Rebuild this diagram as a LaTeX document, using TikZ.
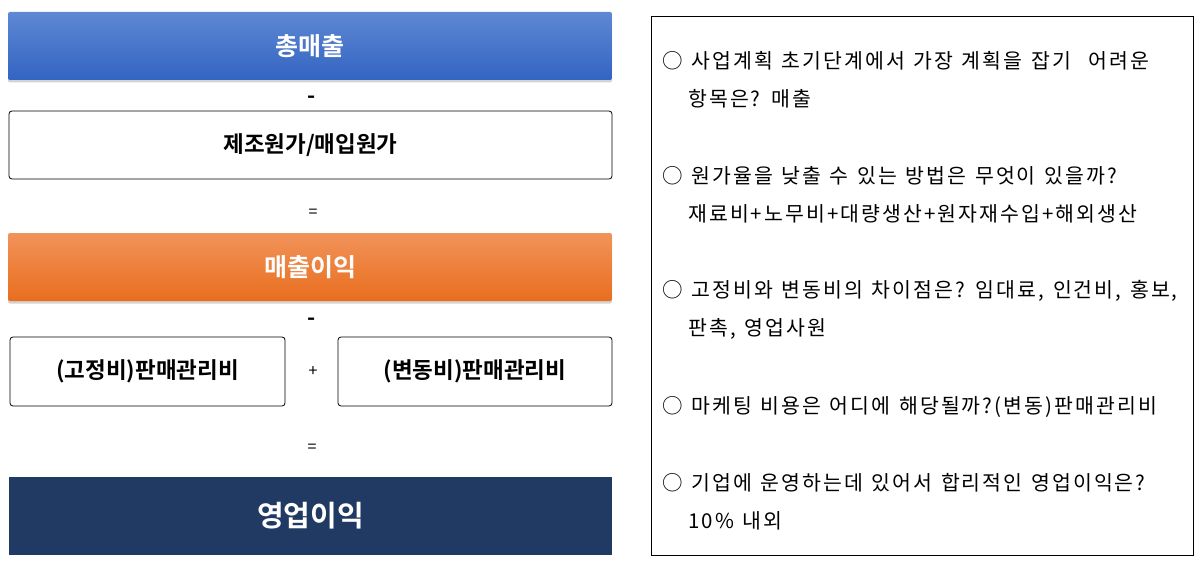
\documentclass[tikz,border=0pt]{standalone}
\usepackage{fontspec}
\usetikzlibrary{shadows}
\newfontfamily\kr{Noto Sans CJK KR}[BoldFont={Noto Sans CJK KR Bold}]
\newfontfamily\krtxt{Noto Sans CJK KR}[WordSpace=1.3, LetterSpace=10]
\definecolor{bluetop}{HTML}{5F88D4}
\definecolor{bluebot}{HTML}{3264C2}
\definecolor{orgtop}{HTML}{F2935A}
\definecolor{orgbot}{HTML}{E86E1E}
\definecolor{navy}{HTML}{213A64}
\tikzset{
  bigbox/.style={minimum width=604pt, minimum height=68pt, inner sep=0pt, rounded corners=2pt},
  gradbox/.style={bigbox, draw=none, drop shadow={opacity=0.35, shadow xshift=0pt, shadow yshift=-2.5pt}, text=white, font=\kr\bfseries\fontsize{25}{28}\selectfont},
  whitebox/.style={draw=black, line width=0.8pt, fill=white, rounded corners=3pt, inner sep=0pt, font=\kr\bfseries\fontsize{22.5}{26}\selectfont},
  opsym/.style={inner sep=0pt, font=\kr\fontsize{16}{18}\selectfont},
  minus/.style={inner sep=0pt, font=\kr\bfseries\fontsize{22}{24}\selectfont},
  qline/.style={anchor=west, inner sep=0pt, font=\krtxt\fontsize{20.5}{24}\selectfont},
}
\begin{document}
\begin{tikzpicture}[x=1pt,y=-1pt]
\useasboundingbox (0,0) rectangle (1200,567);
\node[gradbox, top color=bluetop, bottom color=bluebot] (sales) at (310,46) {총매출};
\node[minus] (op1) at (312,100) {-};
\node[whitebox, minimum width=603pt, minimum height=68pt] (cost) at (310.5,145) {제조원가/매입원가};
\node[opsym] (op2) at (313,213) {=};
\node[gradbox, top color=orgtop, bottom color=orgbot] (gross) at (310,267) {매출이익};
\node[minus] (op3) at (312,322) {-};
\node[whitebox, minimum width=275pt, minimum height=69pt] (fixed) at (147.5,371.5) {(고정비)판매관리비};
\node[opsym] (op4) at (313,372) {+};
\node[whitebox, minimum width=274pt, minimum height=69pt] (var) at (475,371.5) {(변동비)판매관리비};
\node[opsym] (op5) at (312,448) {=};
\node[fill=navy, minimum width=603pt, minimum height=78pt, inner sep=0pt, text=white, font=\kr\bfseries\fontsize{29}{34}\selectfont] (op) at (310.5,516) {영업이익};
\node[draw=black, line width=0.9pt, minimum width=542pt, minimum height=539pt, inner sep=0pt] (panel) at (922,285.5) {};
\node[qline] (q1a) at (662,61) {○ 사업계획 초기단계에서 가장 계획을 잡기 \ 어려운};
\node[qline] (q1b) at (688,99) {항목은? 매출};
\node[qline] (q2a) at (662,176) {○ 원가율을 낮출 수 있는 방법은 무엇이 있을까?};
\node[qline] (q2b) at (688,214) {재료비+노무비+대량생산+원자재수입+해외생산};
\node[qline] (q3a) at (662,291) {○ 고정비와 변동비의 차이점은? 임대료, 인건비, 홍보,};
\node[qline] (q3b) at (688,329) {판촉, 영업사원};
\node[qline] (q4a) at (662,407) {○ 마케팅 비용은 어디에 해당될까?(변동)판매관리비};
\node[qline] (q5a) at (662,483) {○ 기업에 운영하는데 있어서 합리적인 영업이익은?};
\node[qline] (q5b) at (688,521) {10\% 내외};
\end{tikzpicture}
\end{document}
